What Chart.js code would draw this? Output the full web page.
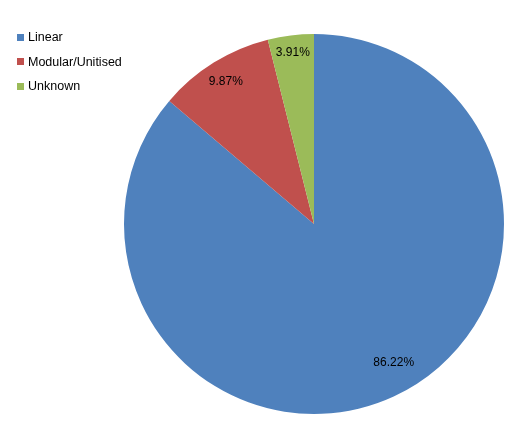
<!DOCTYPE html>
<html>
<head>
<meta charset="utf-8">
<script src="https://cdn.jsdelivr.net/npm/chart.js@4"></script>
<style>
  body { margin: 0; background: #fff; }
  #wrap { position: relative; width: 524px; height: 442px; }
  #legend { position: absolute; left: 17px; top: 25px; font-family: "Liberation Sans", Arial, sans-serif; font-size: 12.5px; color: #000; }
  .item { height: 24.5px; display: flex; align-items: center; }
  .box { width: 7px; height: 7px; margin-right: 4px; }
</style>
</head>
<body>
<div id="wrap">
  <canvas id="chart" width="524" height="442"></canvas>
  <div id="legend"></div>
</div>
<script>
const categories = ['Linear', 'Modular/Unitised', 'Unknown'];
const shares = [86.22, 9.87, 3.91];
const colors = ['#4F81BD', '#C0504D', '#9BBB59'];

// legend in the top left corner
const legend = document.getElementById('legend');
categories.forEach((name, i) => {
  const row = document.createElement('div');
  row.className = 'item';
  row.innerHTML = `<span class="box" style="background:${colors[i]}"></span><span>${name}</span>`;
  legend.appendChild(row);
});

// percentage labels inside the slices (excel "best fit" placement, roughly)
const labelRadius = [0.84, 0.88, 0.91];
const labelTurn = [-0.09, 0, 0];
const sliceLabels = {
  id: 'sliceLabels',
  afterDatasetsDraw(chart) {
    const ctx = chart.ctx;
    const meta = chart.getDatasetMeta(0);
    ctx.save();
    ctx.font = '12px "Liberation Sans", Arial, sans-serif';
    ctx.fillStyle = '#000';
    ctx.textAlign = 'center';
    ctx.textBaseline = 'middle';
    meta.data.forEach((arc, i) => {
      const mid = (arc.startAngle + arc.endAngle) / 2 + labelTurn[i];
      const r = arc.outerRadius * labelRadius[i];
      ctx.fillText(shares[i].toFixed(2) + '%', arc.x + Math.cos(mid) * r, arc.y + Math.sin(mid) * r);
    });
    ctx.restore();
  }
};

new Chart(document.getElementById('chart'), {
  type: 'pie',
  data: {
    labels: categories,
    datasets: [{
      data: shares,
      backgroundColor: colors,
      borderWidth: 0
    }]
  },
  options: {
    responsive: false,
    animation: false,
    layout: { padding: { left: 124, right: 20, top: 34, bottom: 28 } },
    plugins: {
      legend: { display: false },
      tooltip: { enabled: false }
    }
  },
  plugins: [sliceLabels]
});
</script>
</body>
</html>
